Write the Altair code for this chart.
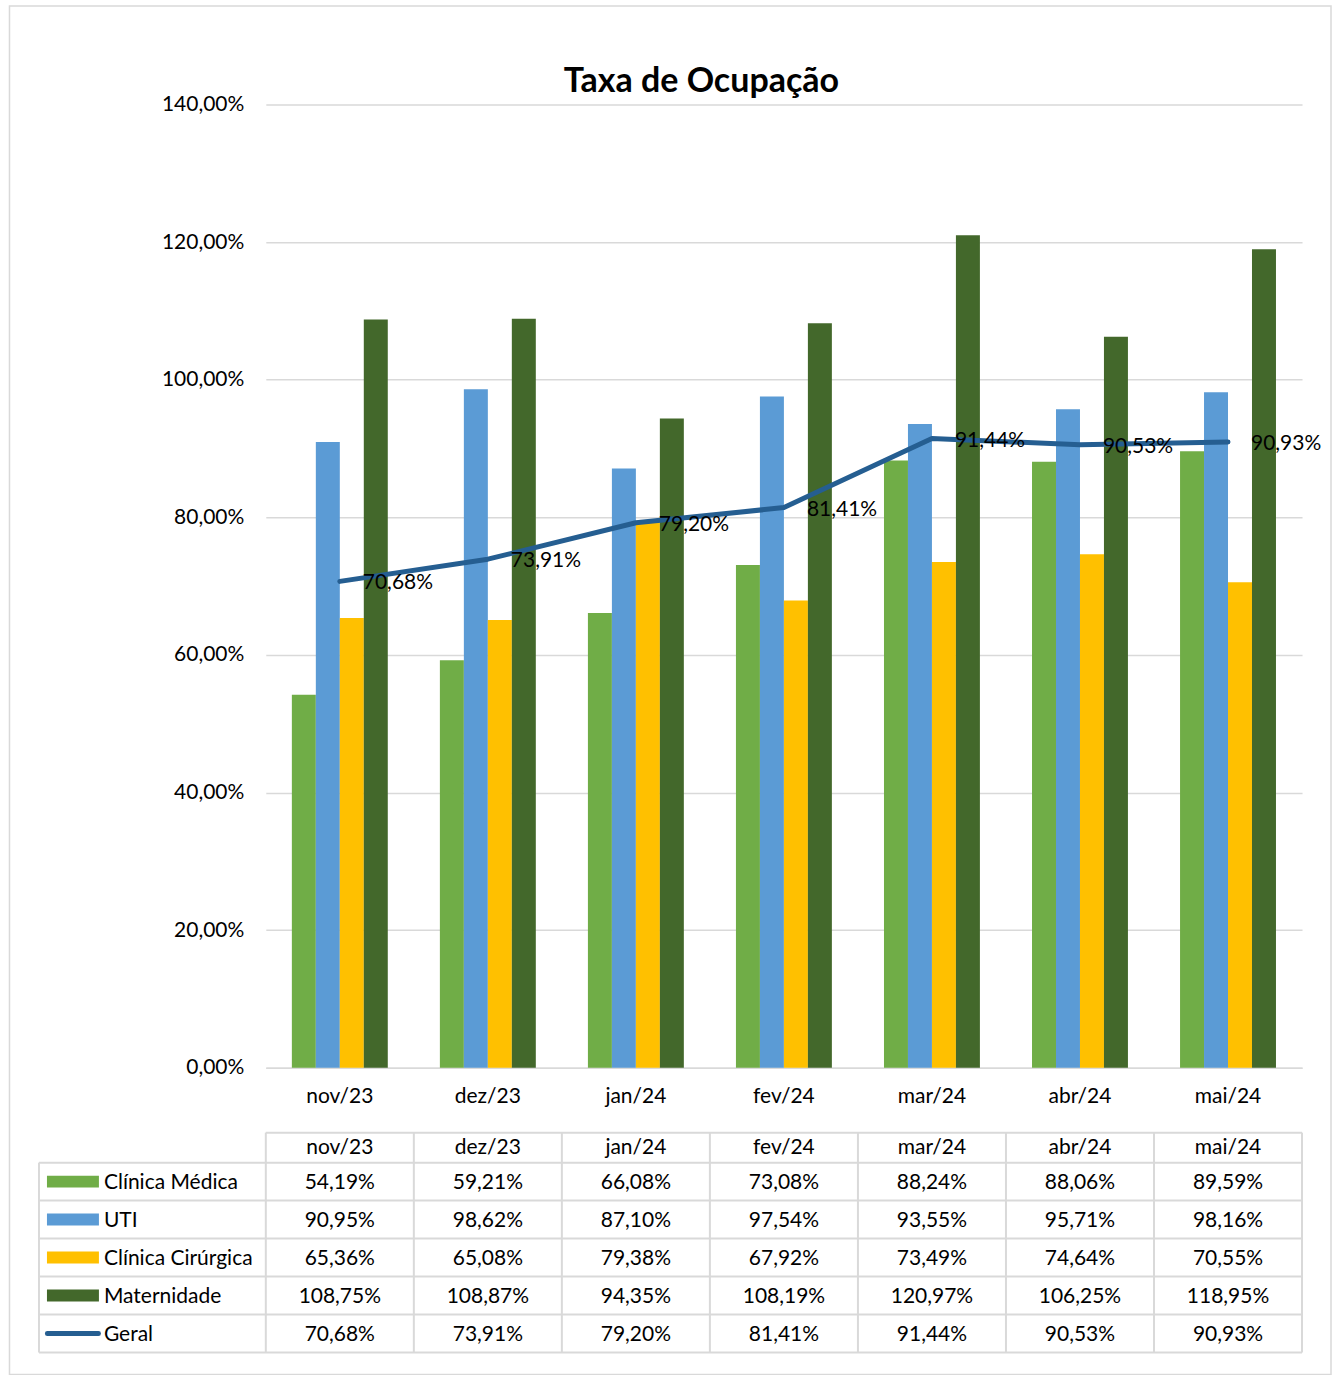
import altair as alt
import pandas as pd

FONT = "Lato"

months = ["nov/23", "dez/23", "jan/24", "fev/24", "mar/24", "abr/24", "mai/24"]
series_names = ["Clínica Médica", "UTI", "Clínica Cirúrgica", "Maternidade"]
clinica_medica = [54.19, 59.21, 66.08, 73.08, 88.24, 88.06, 89.59]
uti = [90.95, 98.62, 87.10, 97.54, 93.55, 95.71, 98.16]
clinica_cirurgica = [65.36, 65.08, 79.38, 67.92, 73.49, 74.64, 70.55]
maternidade = [108.75, 108.87, 94.35, 108.19, 120.97, 106.25, 118.95]
geral = [70.68, 73.91, 79.20, 81.41, 91.44, 90.53, 90.93]
y_ticks = [0, 0.2, 0.4, 0.6, 0.8, 1.0, 1.2, 1.4]

bar_colors = ["#70AD47", "#5B9BD5", "#FFC000", "#43682B"]
line_color = "#255E91"
grid_color = "#D9D9D9"
title_text = "Taxa de Ocupação"


def fmt(v):
    return f"{v:.2f}".replace(".", ",") + "%"


series_values = [clinica_medica, uti, clinica_cirurgica, maternidade]
bars_df = pd.DataFrame(
    [
        {"month": m, "series": s, "value": v / 100}
        for s, vals in zip(series_names, series_values)
        for m, v in zip(months, vals)
    ]
)
line_df = pd.DataFrame(
    {"month": months, "value": [v / 100 for v in geral], "label": [fmt(v) for v in geral]}
)

W, H = 1037, 964

x_enc = alt.X(
    "month:N",
    sort=months,
    scale=alt.Scale(domain=months, paddingInner=0.352, paddingOuter=0.176),
    axis=alt.Axis(
        title=None, labelAngle=0, labelFontSize=21, labelFont=FONT, labelColor="#000000",
        labelPadding=18, ticks=False, domainColor=grid_color, domainWidth=1.5, grid=False,
    ),
)
y_enc = alt.Y(
    "value:Q",
    scale=alt.Scale(domain=[0, 1.4], nice=False, zero=True),
    axis=alt.Axis(
        title=None, values=y_ticks, labelExpr="replace(format(datum.value, '.2%'), '.', ',')",
        ticks=False, domain=False, gridColor=grid_color, gridWidth=1.5, labelPadding=22,
        labelFontSize=21, labelFont=FONT, labelColor="#000000",
    ),
)

bars = alt.Chart(bars_df).mark_bar().encode(
    x=x_enc,
    xOffset=alt.XOffset(
        "series:N", sort=series_names,
        scale=alt.Scale(domain=series_names, paddingInner=0, paddingOuter=0),
    ),
    y=y_enc,
    color=alt.Color(
        "series:N", scale=alt.Scale(domain=series_names, range=bar_colors), legend=None
    ),
)

line = alt.Chart(line_df).mark_line(
    color=line_color, strokeWidth=5, strokeCap="round", strokeJoin="round"
).encode(x=x_enc, y=y_enc)

line_labels = alt.Chart(line_df).mark_text(
    align="left", baseline="middle", dx=23, dy=2, fontSize=21, font=FONT, color="#000000"
).encode(x=x_enc, y=y_enc, text="label:N")

title = alt.Chart(pd.DataFrame({"t": [title_text]})).mark_text(
    fontSize=34, fontWeight="bold", font=FONT, color="#000000", baseline="middle", align="center"
).encode(x=alt.value(436), y=alt.value(-22), text="t:N")

frame = alt.Chart(pd.DataFrame({"t": [0]})).mark_rect(
    filled=False, stroke=grid_color, strokeWidth=1.5
).encode(x=alt.value(-256.5), x2=alt.value(1066), y=alt.value(-98.5), y2=alt.value(1271))

top = alt.layer(frame, bars, line, line_labels, title).properties(width=W, height=H)

# ---------- data table ----------
row_names = series_names + ["Geral"]
row_values = series_values + [geral]
cells_df = pd.DataFrame(
    [
        {"row": r, "month": m, "label": fmt(v)}
        for r, vals in zip(row_names, row_values)
        for m, v in zip(months, vals)
    ]
)
rows_df = pd.DataFrame({"row": row_names})
months_df = pd.DataFrame({"month": months})

TW, TH = 1037, 190
tx = alt.X("month:N", sort=months, scale=alt.Scale(domain=months, paddingInner=0, paddingOuter=0), axis=None)
ty = alt.Y("row:N", sort=row_names, scale=alt.Scale(domain=row_names, paddingInner=0, paddingOuter=0), axis=None)

cells = alt.Chart(cells_df).mark_text(
    fontSize=21, font=FONT, color="#000000", align="center", baseline="middle", dy=1
).encode(x=tx, y=ty, text="label:N")

header = alt.Chart(months_df).mark_text(
    fontSize=21, font=FONT, color="#000000", align="center", baseline="middle"
).encode(x=tx, y=alt.value(-15), text="month:N")

row_labels = alt.Chart(rows_df).mark_text(
    fontSize=21, font=FONT, color="#000000", align="left", baseline="middle", dy=1
).encode(x=alt.value(-162), y=ty, text="row:N")

swatches = alt.Chart(pd.DataFrame({"row": series_names})).mark_rule(
    strokeWidth=12, strokeCap="butt"
).encode(
    x=alt.value(-219), x2=alt.value(-167), y=ty,
    color=alt.Color("row:N", scale=alt.Scale(domain=series_names, range=bar_colors), legend=None),
)
line_swatch = alt.Chart(pd.DataFrame({"row": ["Geral"]})).mark_rule(
    strokeWidth=5, strokeCap="round", color=line_color
).encode(x=alt.value(-218.5), x2=alt.value(-167.5), y=ty)

hlines = alt.Chart(rows_df).mark_rule(color=grid_color, strokeWidth=2).encode(
    y=alt.Y("row:N", sort=row_names, scale=alt.Scale(domain=row_names, paddingInner=0, paddingOuter=0),
            axis=None, bandPosition=0),
    x=alt.value(-227), x2=alt.value(TW),
)
vlines = alt.Chart(months_df).mark_rule(color=grid_color, strokeWidth=2).encode(
    x=alt.X("month:N", sort=months, scale=alt.Scale(domain=months, paddingInner=0, paddingOuter=0),
            axis=None, bandPosition=0),
    y=alt.value(-30), y2=alt.value(TH),
)
one = pd.DataFrame({"t": [0]})
bottom_line = alt.Chart(one).mark_rule(color=grid_color, strokeWidth=2).encode(
    y=alt.value(TH), x=alt.value(-227), x2=alt.value(TW))
header_top = alt.Chart(one).mark_rule(color=grid_color, strokeWidth=2).encode(
    y=alt.value(-30), x=alt.value(0), x2=alt.value(TW))
right_line = alt.Chart(one).mark_rule(color=grid_color, strokeWidth=2).encode(
    x=alt.value(TW), y=alt.value(-30), y2=alt.value(TH))
left_line = alt.Chart(one).mark_rule(color=grid_color, strokeWidth=2).encode(
    x=alt.value(-227), y=alt.value(0), y2=alt.value(TH))

table = alt.layer(
    hlines, vlines, bottom_line, header_top, right_line, left_line,
    swatches, line_swatch, cells, header, row_labels,
).properties(width=TW, height=TH)

chart = alt.vconcat(top, table, spacing=95, bounds="flush").properties(
    padding={"left": 8, "top": 4, "right": 0, "bottom": 0},
    background="#FFFFFF",
).configure(font=FONT).configure_view(stroke=None, strokeWidth=0)

chart.save("out.html", embed_options={"renderer": "svg", "actions": False})
